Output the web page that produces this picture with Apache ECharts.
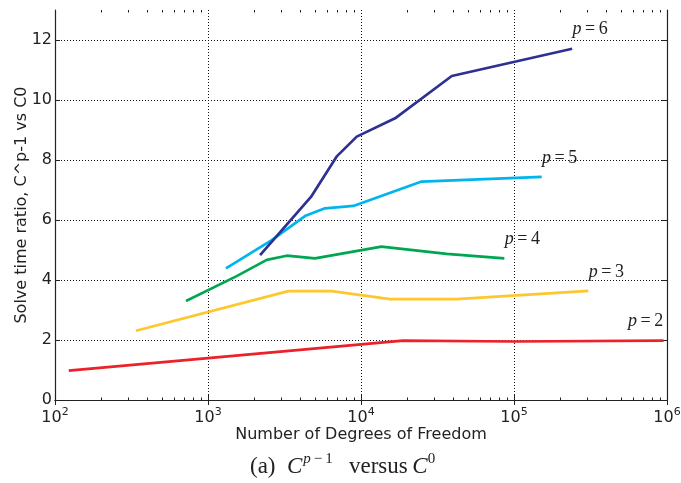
<!DOCTYPE html>
<html><head><meta charset="utf-8">
<script src="https://cdn.jsdelivr.net/npm/echarts@6/dist/echarts.min.js"></script>
<style>html,body{margin:0;padding:0;background:#fff}#c{width:681px;height:483px}</style>
</head><body><div id="c"></div>
<script>
// ---- data ----
const seriesNames = ['p=2', 'p=3', 'p=4', 'p=5', 'p=6'];
const p2 = [[123, 0.98], [18800, 1.98], [100000, 1.95], [950000, 1.98]];
const p3 = [[338, 2.31], [3350, 3.63], [6430, 3.63], [15500, 3.36], [42200, 3.36], [306000, 3.64]];
const p4 = [[718, 3.30], [1540, 4.13], [2420, 4.67], [3270, 4.81], [5000, 4.72], [13600, 5.11], [36300, 4.87], [86500, 4.72]];
const p5 = [[1310, 4.39], [2610, 5.33], [4300, 6.13], [5820, 6.39], [8920, 6.47], [24900, 7.28], [151700, 7.44]];
const p6 = [[2190, 4.83], [4710, 6.77], [6970, 8.13], [9380, 8.78], [16700, 9.39], [39200, 10.8], [240000, 11.71]];
const xMajorTicks = [100, 1000, 10000, 100000, 1000000];
const yTicks = [0, 2, 4, 6, 8, 10, 12];
const xAxisTitle = 'Number of Degrees of Freedom';
const yAxisTitle = 'Solve time ratio, C^p-1 vs C0';

// ---- styling ----
const allData = [p2, p3, p4, p5, p6];
const colors = ['#ec2129', '#fdc72e', '#00a651', '#00b5ec', '#2e3192'];
const labelOffsets = [[-18, -19], [18, -19], [18, -19], [18, -19], [18, -19]];
const frame = '#222';
const sans = 'DejaVu Sans';
const serif = 'Liberation Serif';

const xMinorTicks = [];
for (let d = 0; d < xMajorTicks.length - 1; d++) {
  for (let m = 2; m <= 9; m++) xMinorTicks.push(xMajorTicks[d] * m);
}

const gridLine = { show: true, lineStyle: { color: '#111', type: [1, 2], width: 1 } };

function xAxisBase(pos) {
  return {
    type: 'log', logBase: 10, min: xMajorTicks[0], max: xMajorTicks[xMajorTicks.length - 1],
    position: pos, gridIndex: 0
  };
}

const xAxes = [
  Object.assign(xAxisBase('bottom'), {
    name: xAxisTitle, nameLocation: 'middle', nameGap: 27, nameMoveOverlap: false,
    nameTextStyle: { fontFamily: sans, fontSize: 16, color: '#222' },
    axisLine: { show: true, lineStyle: { color: frame, width: 1.2 } },
    axisTick: { show: true, inside: true, length: 5, lineStyle: { color: frame }, customValues: xMajorTicks },
    axisLabel: {
      show: true, margin: 7, customValues: xMajorTicks,
      formatter: v => '{b|10}{s|' + Math.round(Math.log10(v)) + '}',
      rich: {
        b: { fontFamily: sans, fontSize: 16, color: '#222', verticalAlign: 'bottom' },
        s: { fontFamily: sans, fontSize: 11, color: '#222', verticalAlign: 'top', padding: [0, 0, 8, 0] }
      }
    },
    splitLine: gridLine
  }),
  Object.assign(xAxisBase('top'), {
    axisLine: { show: true, lineStyle: { color: frame, width: 1.2 } },
    axisTick: { show: true, inside: true, length: 5, lineStyle: { color: frame }, customValues: xMajorTicks },
    axisLabel: { show: false }, splitLine: { show: false }
  }),
  Object.assign(xAxisBase('bottom'), {
    axisLine: { show: false },
    axisTick: { show: true, inside: true, length: 2.5, lineStyle: { color: frame }, customValues: xMinorTicks },
    axisLabel: { show: false }, splitLine: { show: false }
  }),
  Object.assign(xAxisBase('top'), {
    axisLine: { show: false },
    axisTick: { show: true, inside: true, length: 2.5, lineStyle: { color: frame }, customValues: xMinorTicks },
    axisLabel: { show: false }, splitLine: { show: false }
  })
];

const yAxes = [
  {
    type: 'value', min: 0, max: 13, interval: 2, position: 'left',
    name: yAxisTitle, nameLocation: 'middle', nameGap: 25, nameRotate: 90, nameMoveOverlap: false,
    nameTextStyle: { fontFamily: sans, fontSize: 16, color: '#222' },
    axisLine: { show: true, lineStyle: { color: frame, width: 1.2 } },
    axisTick: { show: true, inside: true, length: 5, lineStyle: { color: frame }, customValues: yTicks },
    axisLabel: { show: true, margin: 3, customValues: yTicks, fontFamily: sans, fontSize: 16, color: '#222' },
    splitLine: gridLine
  },
  {
    type: 'value', min: 0, max: 13, interval: 2, position: 'right',
    axisLine: { show: true, lineStyle: { color: frame, width: 1.2 } },
    axisTick: { show: true, inside: true, length: 5, lineStyle: { color: frame }, customValues: yTicks },
    axisLabel: { show: false }, splitLine: { show: false }
  }
];

const series = allData.map((d, i) => {
  const num = seriesNames[i].split('=')[1];
  return {
    name: seriesNames[i], type: 'line', data: d, xAxisIndex: 0, yAxisIndex: 0,
    showSymbol: false, symbol: 'none', clip: true,
    lineStyle: { color: colors[i], width: 2.7 },
    itemStyle: { color: colors[i] },
    z: 2 + i,
    markPoint: {
      symbol: 'circle', symbolSize: 0, silent: true,
      data: [{ coord: d[d.length - 1] }],
      label: {
        show: true, position: 'inside', offset: labelOffsets[i],
        formatter: '{i|p}{n|\u2009=\u2009' + num + '}',
        rich: {
          i: { fontFamily: serif, fontStyle: 'italic', fontSize: 18, color: '#222' },
          n: { fontFamily: serif, fontSize: 18, color: '#222' }
        }
      }
    }
  };
});

const chart = echarts.init(document.getElementById('c'), null, { renderer: 'canvas' });
chart.setOption({
  animation: false,
  backgroundColor: '#fff',
  grid: { left: 55, right: 14, top: 10, bottom: 83, containLabel: false, outerBoundsMode: 'none' },
  xAxis: xAxes,
  yAxis: yAxes,
  series: series,
  graphic: [{
    type: 'text', left: 250, top: 452,
    style: {
      text: '{a|(a)\u2002}{i|C}{u|p}{v|\u2009\u2212\u20091}{a|\u2002\u2009versus\u2009}{i|C}{v|0}',
      rich: {
        a: { fontFamily: serif, fontSize: 23, lineHeight: 26, fill: '#222', verticalAlign: 'bottom' },
        i: { fontFamily: serif, fontStyle: 'italic', fontSize: 23, lineHeight: 26, fill: '#222', verticalAlign: 'bottom' },
        u: { fontFamily: serif, fontStyle: 'italic', fontSize: 15, lineHeight: 15, fill: '#222', verticalAlign: 'top', padding: [0, 0, 0, 1] },
        v: { fontFamily: serif, fontSize: 15, lineHeight: 15, fill: '#222', verticalAlign: 'top' }
      }
    }
  }]
});
</script></body></html>
